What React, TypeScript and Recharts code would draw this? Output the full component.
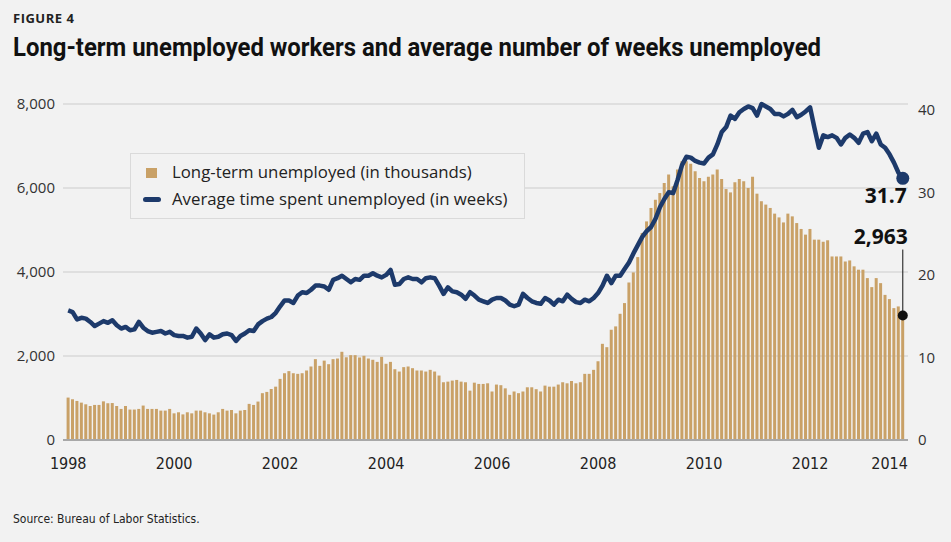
import { ComposedChart, Bar, Line, XAxis, YAxis, CartesianGrid, ReferenceDot } from 'recharts';

const BG = '#f2f2f2';
const SANS = '"Open Sans", "Noto Sans", sans-serif';
const COND = '"DejaVu Sans Condensed", "DejaVu Sans", sans-serif';
const BAR_COLOR = '#c9a167';
const LINE_COLOR = '#1d3a6b';

const START_YEAR = 1998;

// long-term unemployed, thousands, monthly from Jan 1998
const longTermUnemployed = [
  1010, 970, 930, 890, 850, 810, 835, 835, 920, 875, 880, 810, // 1998
  740, 810, 725, 725, 740, 820, 740, 740, 740, 700, 700, 740, // 1999
  635, 660, 610, 660, 635, 700, 700, 660, 635, 605, 660, 740, // 2000
  700, 715, 635, 700, 715, 860, 835, 915, 1115, 1145, 1215, 1270, // 2001
  1455, 1590, 1640, 1590, 1575, 1590, 1655, 1750, 1925, 1765, 1890, 1805, // 2002
  1925, 1940, 2100, 1970, 2020, 2020, 1965, 2005, 1940, 1910, 1860, 1980, // 2003
  1815, 1860, 1685, 1630, 1735, 1750, 1710, 1655, 1655, 1630, 1670, 1630, // 2004
  1535, 1375, 1390, 1415, 1430, 1390, 1375, 1175, 1365, 1335, 1335, 1350, // 2005
  1155, 1320, 1305, 1230, 1075, 1155, 1115, 1155, 1255, 1255, 1210, 1155, // 2006
  1295, 1270, 1270, 1320, 1375, 1350, 1405, 1350, 1375, 1575, 1575, 1670, // 2007
  1875, 2290, 2210, 2625, 2705, 3005, 3260, 3750, 3990, 4355, 4930, 5205, // 2008
  5525, 5720, 5880, 6120, 6320, 6040, 6440, 6635, 6635, 6580, 6400, 6240, // 2009
  6160, 6265, 6320, 6440, 6215, 5975, 5895, 6135, 6215, 6160, 6000, 6265, // 2010
  5865, 5685, 5605, 5525, 5390, 5300, 5180, 5390, 5325, 5165, 5025, 4890, // 2011
  5025, 4770, 4770, 4720, 4755, 4370, 4370, 4370, 4250, 4275, 4135, 4055, // 2012
  4055, 3855, 3640, 3855, 3735, 3455, 3355, 3140, 3180, 2963, // 2013
];

// average duration of unemployment, weeks
const avgWeeksUnemployed = [
  15.7, 15.5, 14.6, 14.8, 14.7, 14.3, 13.8, 14.1, 14.4, 14.2, 14.5, 13.9,
  13.5, 13.7, 13.3, 13.4, 14.3, 13.6, 13.2, 13.0, 13.1, 13.2, 12.9, 13.1,
  12.7, 12.6, 12.6, 12.4, 12.5, 13.5, 12.9, 12.1, 12.8, 12.4, 12.5, 12.8,
  12.9, 12.7, 12.0, 12.6, 12.9, 13.3, 13.2, 14.0, 14.4, 14.7, 14.9, 15.4,
  16.2, 16.9, 16.9, 16.6, 17.5, 17.9, 17.8, 18.2, 18.7, 18.7, 18.6, 18.2,
  19.4, 19.6, 19.9, 19.5, 19.1, 19.5, 19.4, 19.9, 19.9, 20.2, 19.9, 19.7,
  20.0, 20.6, 18.8, 18.9, 19.5, 19.7, 19.5, 19.5, 19.1, 19.6, 19.7, 19.6,
  18.7, 17.7, 18.5, 18.0, 17.9, 17.6, 17.1, 17.9, 17.5, 17.0, 16.8, 16.6,
  17.0, 17.2, 17.2, 16.9, 16.4, 16.2, 16.4, 17.7, 17.2, 16.8, 16.6, 16.5,
  17.2, 16.9, 16.4, 17.0, 16.8, 17.6, 17.1, 16.7, 16.6, 17.0, 16.8, 17.2,
  17.8, 18.7, 19.9, 19.0, 19.9, 19.9, 20.7, 21.5, 22.6, 23.6, 24.6, 25.3,
  25.8, 26.8, 28.2, 29.2, 30.0, 29.9, 31.5, 33.3, 34.3, 34.2, 33.8, 33.6,
  33.5, 34.2, 34.6, 35.8, 37.3, 37.9, 39.3, 38.9, 39.7, 40.1, 40.4, 40.2,
  39.3, 40.7, 40.4, 40.1, 39.5, 39.5, 39.2, 39.5, 40.0, 39.1, 39.4, 39.8,
  40.3, 37.8, 35.4, 36.9, 36.7, 36.9, 36.6, 35.8, 36.6, 37.0, 36.6, 36.0,
  37.1, 37.3, 36.2, 37.1, 35.8, 35.4, 34.6, 33.6, 32.4, 31.7,
];

const leftTicks = [0, 2000, 4000, 6000, 8000];
const rightTicks = [0, 10, 20, 30, 40];
const yearTickMonths = ['1998-01', '2000-01', '2002-01', '2004-01', '2006-01', '2008-01', '2010-01', '2012-01', '2013-07'];
const yearTickLabels = ['1998', '2000', '2002', '2004', '2006', '2008', '2010', '2012', '2014'];

const months = longTermUnemployed.map((_, i) => {
  const y = START_YEAR + Math.floor(i / 12);
  const m = (i % 12) + 1;
  return `${y}-${String(m).padStart(2, '0')}`;
});

const data = months.map((month, i) => ({
  month,
  longTerm: longTermUnemployed[i],
  weeks: avgWeeksUnemployed[i],
}));

const last = data.length - 1;

const LineEnd = ({ cx, cy }: any) => (
  <g>
    <circle cx={cx} cy={cy} r={6.5} fill={LINE_COLOR} />
    <text x={cx + 4} y={cy + 25} textAnchor="end" fontFamily={SANS} fontWeight={700} fontSize={21} fill="#111">
      {avgWeeksUnemployed[last].toFixed(1)}
    </text>
  </g>
);

const BarEnd = ({ cx, cy }: any) => (
  <g>
    <line x1={cx} x2={cx} y1={cy} y2={cy - 66} stroke="#111" strokeWidth={1} />
    <circle cx={cx} cy={cy} r={5} fill="#111" />
    <text x={cx + 5} y={cy - 72} textAnchor="end" fontFamily={SANS} fontWeight={700} fontSize={21} fill="#111">
      {longTermUnemployed[last].toLocaleString('en-US')}
    </text>
  </g>
);

export default function App() {
  return (
    <div style={{ position: 'absolute', left: 0, top: 0, width: 951, height: 542, background: BG, overflow: 'hidden' }}>
      <div style={{ position: 'absolute', left: 13, top: 9, font: `700 13px ${SANS}`, letterSpacing: 0.5, color: '#222' }}>
        FIGURE 4
      </div>
      <svg width={951} height={70} style={{ position: 'absolute', left: 0, top: 0 }}>
        <text
          x={13}
          y={56}
          textLength={808}
          lengthAdjust="spacingAndGlyphs"
          fontFamily="Roboto, sans-serif"
          fontWeight={700}
          fontSize={26}
          fill="#111"
        >
          Long-term unemployed workers and average number of weeks unemployed
        </text>
      </svg>

      <ComposedChart
        width={951}
        height={542}
        data={data}
        margin={{ top: 104, right: 0, bottom: 72, left: 0 }}
        barCategoryGap={0.6}
      >
        <CartesianGrid yAxisId="left" vertical={false} stroke="#d9d9d9" strokeWidth={1.5} />
        <XAxis
          dataKey="month"
          ticks={yearTickMonths}
          interval={0}
          tickFormatter={(v: string) => yearTickLabels[yearTickMonths.indexOf(v)]}
          padding={{ left: 3, right: 3 }}
          height={30}
          axisLine={{ stroke: '#a8a8a8', strokeWidth: 2 }}
          tickLine={false}
          tickSize={0}
          tickMargin={18}
          tick={{ fontFamily: COND, fontSize: 16, fill: '#222' }}
        />
        <YAxis
          yAxisId="left"
          domain={[0, 8000]}
          ticks={leftTicks}
          tickFormatter={(v: number) => v.toLocaleString('en-US')}
          width={63}
          axisLine={false}
          tickLine={false}
          tickSize={0}
          tickMargin={8}
          tick={{ fontFamily: SANS, fontSize: 15, fill: '#333' }}
        />
        <YAxis
          yAxisId="right"
          orientation="right"
          domain={[0, 40]}
          ticks={rightTicks}
          width={43}
          axisLine={false}
          tickLine={false}
          tickSize={0}
          tickMargin={10}
          tick={{ fontFamily: SANS, fontSize: 15, fill: '#333' }}
        />
        <Bar yAxisId="left" dataKey="longTerm" fill={BAR_COLOR} isAnimationActive={false} />
        <Line
          yAxisId="right"
          dataKey="weeks"
          type="linear"
          stroke={LINE_COLOR}
          strokeWidth={4.5}
          strokeLinejoin="round"
          dot={false}
          activeDot={false}
          isAnimationActive={false}
        />
        <ReferenceDot yAxisId="left" x={months[last]} y={longTermUnemployed[last]} shape={BarEnd} />
        <ReferenceDot yAxisId="right" x={months[last]} y={avgWeeksUnemployed[last]} shape={LineEnd} />
      </ComposedChart>

      <div
        style={{
          position: 'absolute', left: 130, top: 153, width: 395, height: 66, boxSizing: 'border-box',
          border: '1.5px solid #dadada', background: BG, font: `16.8px ${SANS}`, color: '#222',
        }}
      >
        <div style={{ position: 'absolute', left: 15, top: 14, width: 11, height: 10, background: BAR_COLOR }} />
        <div style={{ position: 'absolute', left: 41, top: 7, lineHeight: '22px', whiteSpace: 'nowrap' }}>
          Long-term unemployed (in thousands)
        </div>
        <div style={{ position: 'absolute', left: 12, top: 43, width: 18, height: 5, borderRadius: 3, background: LINE_COLOR }} />
        <div style={{ position: 'absolute', left: 41, top: 34, lineHeight: '22px', whiteSpace: 'nowrap' }}>
          Average time spent unemployed (in weeks)
        </div>
      </div>

      <div style={{ position: 'absolute', left: 13, top: 512, font: `12px ${COND}`, color: '#222' }}>
        Source: Bureau of Labor Statistics.
      </div>
    </div>
  );
}
